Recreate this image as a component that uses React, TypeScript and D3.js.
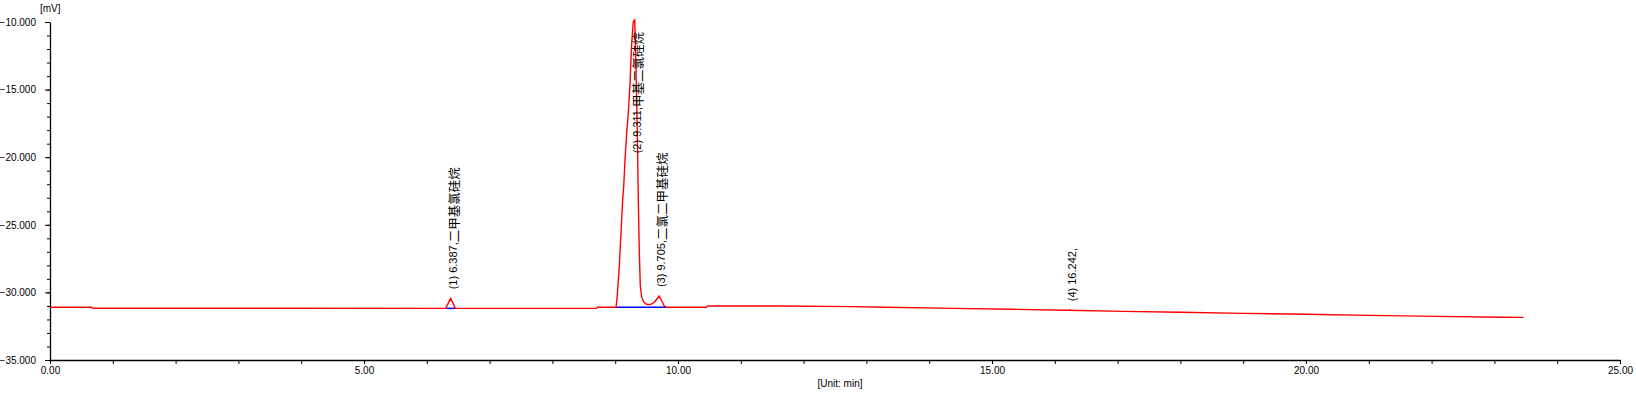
import React, { useRef, useEffect } from 'react';
import * as d3 from 'd3';

// chromatogram trace (time in min, signal in mV)
const traceTime = [
  0.0, 0.66, 0.68, 6.3, 6.38, 6.455, 8.7, 8.72, 9.013, 9.034, 9.065, 9.092, 9.119, 9.135,
  9.156, 9.183, 9.209, 9.236, 9.263, 9.288, 9.311, 9.331, 9.352, 9.368, 9.384, 9.4, 9.42,
  9.45, 9.5, 9.56, 9.62, 9.67, 9.7, 9.74, 9.78, 9.82, 10.45, 10.47, 11.6, 12.77, 13.3, 14.4,
  15.3, 16.2, 17.1, 18.0, 19.0, 20.0, 21.0, 22.1, 23.1, 23.46,
];
const traceSignal = [
  -31.1, -31.1, -31.17, -31.18, -30.44, -31.18, -31.18, -31.1, -31.1, -30.19, -28.1, -25.61,
  -23.17, -22.21, -20.21, -18.21, -16.73, -14.51, -11.55, -9.98, -9.85, -13.33, -18.21,
  -23.17, -27.09, -29.5, -30.3, -30.7, -30.88, -30.9, -30.75, -30.45, -30.27, -30.6, -31.0,
  -31.1, -31.1, -31.01, -31.01, -31.05, -31.1, -31.18, -31.25, -31.32, -31.4, -31.47, -31.55,
  -31.62, -31.7, -31.77, -31.84, -31.85,
];

// integration baselines
const baseStart = [6.3, 9.013, 16.225];
const baseEnd = [6.455, 9.82, 16.26];
const baseValue = [-31.18, -31.1, -31.32];

// identified peaks
const peakTime = [6.387, 9.311, 9.705, 16.242];
const peakApex = [-30.44, -9.85, -30.27, -31.32];
const peakLabels = [
  '(1) 6.387,二甲基氯硅烷',
  '(2) 9.311,甲基二氯硅烷',
  '(3) 9.705,二氯二甲基硅烷',
  '(4) 16.242,',
];

const xMajor = [0, 5, 10, 15, 20, 25];
const xMinor = d3.range(0, 26, 1);
const yMajor = [-35, -30, -25, -20, -15, -10];
const yMinor = d3.range(-35, -9, 1);

const W = 1636;
const H = 395;
const FONT = '"Liberation Sans", Arial, sans-serif';
const CJK = '"Noto Sans CJK SC", "Liberation Sans", sans-serif';

export default function App() {
  const ref = useRef<SVGSVGElement>(null);

  useEffect(() => {
    document.body.style.margin = '0';
    const svg = d3.select(ref.current);
    svg.selectAll('*').remove();

    const x = d3.scaleLinear().domain([0, 25]).range([50, 1620]);
    const y = d3.scaleLinear().domain([-35, -10]).range([360, 22]);

    // minor ticks
    svg.append('g')
      .attr('transform', `translate(0,${y(-35)})`)
      .call(d3.axisBottom(x).tickValues(xMinor).tickSize(4).tickFormat(() => ''))
      .call(g => g.select('.domain').remove());
    svg.append('g')
      .attr('transform', `translate(${x(0)},0)`)
      .call(d3.axisLeft(y).tickValues(yMinor).tickSize(3).tickFormat(() => ''))
      .call(g => g.select('.domain').remove());

    // major ticks + labels
    const gx = svg.append('g')
      .attr('transform', `translate(0,${y(-35)})`)
      .call(d3.axisBottom(x).tickValues(xMajor).tickSize(4).tickSizeOuter(0).tickPadding(3)
        .tickFormat(d3.format('.2f')));
    const gy = svg.append('g')
      .attr('transform', `translate(${x(0)},0)`)
      .call(d3.axisLeft(y).tickValues(yMajor).tickSize(5).tickSizeOuter(0).tickPadding(9)
        .tickFormat(d3.format('.3f')));
    [gx, gy].forEach(g => {
      g.attr('font-family', FONT).attr('font-size', 10);
      g.selectAll('text').attr('fill', '#000');
    });
    svg.selectAll('.tick line').attr('stroke', '#000');
    svg.selectAll('.domain').attr('stroke', '#000').attr('stroke-width', 1.3);

    svg.append('text')
      .attr('x', 40).attr('y', 12)
      .attr('font-family', FONT).attr('font-size', 10)
      .text('[mV]');
    svg.append('text')
      .attr('x', 840).attr('y', 387)
      .attr('text-anchor', 'middle')
      .attr('font-family', FONT).attr('font-size', 10)
      .text('[Unit: min]');

    // baselines
    svg.append('g').selectAll('line')
      .data(baseStart)
      .join('line')
      .attr('x1', (d) => x(d))
      .attr('x2', (_d, i) => x(baseEnd[i]))
      .attr('y1', (_d, i) => y(baseValue[i]))
      .attr('y2', (_d, i) => y(baseValue[i]))
      .attr('stroke', '#0000ff')
      .attr('stroke-width', 1.5);

    // trace
    const pts: [number, number][] = traceTime.map((t, i) => [t, traceSignal[i]]);
    const line = d3.line<[number, number]>().x(d => x(d[0])).y(d => y(d[1]));
    svg.append('path')
      .attr('d', line(pts))
      .attr('fill', 'none')
      .attr('stroke', '#ff0000')
      .attr('stroke-width', 1.4);

    // peak labels: latin part and CJK name part
    const plotTop = y(-10);
    svg.append('g').selectAll('text')
      .data(peakLabels)
      .join('text')
      .attr('fill', '#000')
      .attr('dominant-baseline', 'central')
      .each(function (d, i) {
        const el = d3.select(this as SVGTextElement);
        const cut = d.indexOf(',') + 1;
        el.append('tspan').attr('font-family', FONT).attr('font-size', 11).text(d.slice(0, cut));
        if (cut < d.length) {
          el.append('tspan').attr('font-family', CJK).attr('font-size', 12.5).text(d.slice(cut));
        }
        const len = (this as SVGTextElement).getComputedTextLength();
        let bottom = y(peakApex[i]) - 9;
        if (bottom - len < plotTop + 10) bottom = plotTop + 10 + len;
        el.attr('transform', `translate(${x(peakTime[i]) + 2},${bottom}) rotate(-90)`);
      });
  }, []);

  return <svg ref={ref} width={W} height={H} style={{ display: 'block', background: '#fff' }} />;
}
